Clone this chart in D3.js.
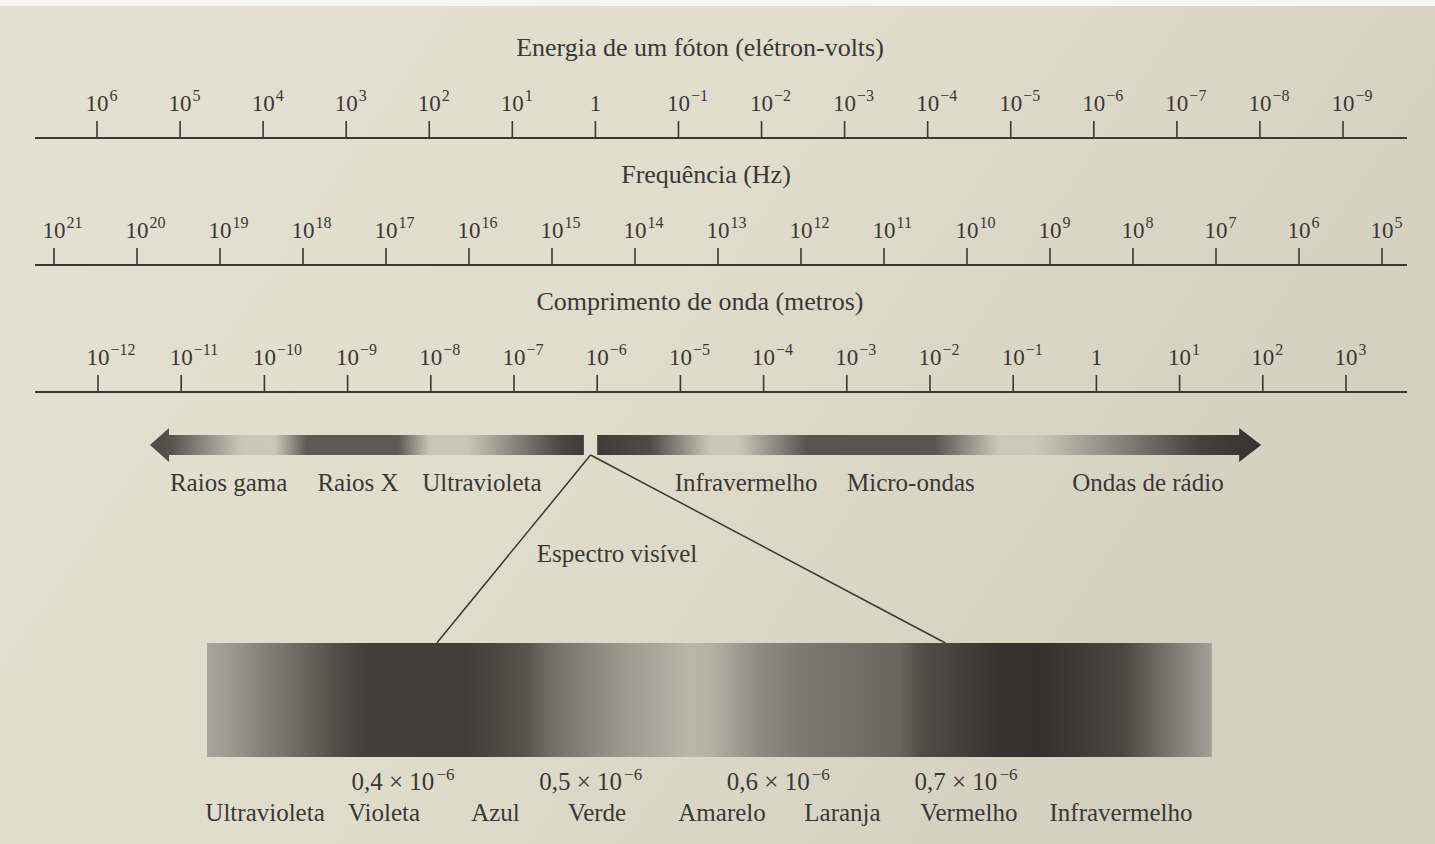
<!DOCTYPE html>
<html>
<head>
<meta charset="utf-8">
<script src="https://cdn.jsdelivr.net/npm/d3@7"></script>
<style>
body { margin: 0; background: #e1decd; }
svg text { font-family: "Liberation Serif", "Times New Roman", serif; fill: #3b3834; }
</style>
</head>
<body>
<script>
//exponents of ten on the three log axes
var energyExp = [6, 5, 4, 3, 2, 1, 0, -1, -2, -3, -4, -5, -6, -7, -8, -9];
var freqExp = [21, 20, 19, 18, 17, 16, 15, 14, 13, 12, 11, 10, 9, 8, 7, 6, 5];
var waveExp = [-12, -11, -10, -9, -8, -7, -6, -5, -4, -3, -2, -1, 0, 1, 2, 3];

//region names under the band, placed at log10(wavelength in m)
var bandNames = ["Raios gama", "Raios X", "Ultravioleta", "Infravermelho", "Micro-ondas", "Ondas de rádio"];
var bandNameExp = [-10.43, -8.875, -7.385, -4.21, -2.23, 0.62];

//grey stops of the band (log10 wavelength), left piece and right piece
var bandLeftExp = [-11.375, -11.13, -10.27, -9.885, -9.49, -8.39, -8.01, -7.56, -6.46, -6.16];
var bandLeftGrey = ["#4d4943", "#57534c", "#cbc7b8", "#cdc9ba", "#5e5a52", "#5e5a52", "#cac6b7", "#cac6b7", "#4c4842", "#3f3c37"];
var bandRightExp = [-6.0, -5.37, -4.63, -4.31, -3.48, -1.94, -1.16, -0.73, 1.25, 1.81, 1.98];
var bandRightGrey = ["#3f3c37", "#4f4b45", "#ccc8b9", "#ccc8b9", "#58544d", "#5a564f", "#cdc9ba", "#cdc9ba", "#45413b", "#393631", "#36332f"];
var visibleApexExp = -6.08;

//visible spectrum, wavelength in micrometres
var visStopUm = [0.2956, 0.3078, 0.3249, 0.3462, 0.3638, 0.3792, 0.4336, 0.4661, 0.4767, 0.5156, 0.5529, 0.5636, 0.5902, 0.6115, 0.6653, 0.6760, 0.7191, 0.7410, 0.7841, 0.7948, 0.8193, 0.8310];
var visStopGrey = ["#a8a499", "#9e9a8e", "#868277", "#6c685f", "#534f48", "#433f39", "#413d37", "#58544c", "#706c62", "#9b978b", "#bab6a8", "#b5b1a3", "#8f8b80", "#7e7a70", "#69655c", "#524e47", "#35322d", "#34312c", "#4c4841", "#615d55", "#8e8a80", "#a39f94"];
var visEdgeUm = [0.418, 0.689];
var visValues = [0.4, 0.5, 0.6, 0.7];
var visNames = ["Ultravioleta", "Violeta", "Azul", "Verde", "Amarelo", "Laranja", "Vermelho", "Infravermelho"];
var visNameUm = [0.3265, 0.3899, 0.4493, 0.5034, 0.570, 0.6342, 0.7015, 0.7826];

var width = 1435,
    height = 844,
    ink = "#3b3834";

var svg = d3.select("body")
    .append("svg")
    .attr("width", width)
    .attr("height", height);

var defs = svg.append("defs");

//page tone of the photo
var page = defs.append("linearGradient")
    .attr("id", "page")
    .attr("x1", 0).attr("y1", 0)
    .attr("x2", 1).attr("y2", 0.4);
page.append("stop").attr("offset", 0).attr("stop-color", "#e3e1d2");
page.append("stop").attr("offset", 0.5).attr("stop-color", "#e0ddcc");
page.append("stop").attr("offset", 1).attr("stop-color", "#d4d0bf");
svg.append("rect").attr("width", width).attr("height", height).attr("fill", "url(#page)");
svg.append("rect").attr("width", width).attr("height", 6).attr("fill", "#f6f6f3");

//scales
var energyX = d3.scaleLog().domain([1e6, 1e-9]).range([97, 1343]);
var freqX = d3.scaleLog().domain([1e21, 1e5]).range([54, 1382]);
var waveX = d3.scaleLog().domain([1e-12, 1e3]).range([98, 1346]);
var visX = d3.scaleLinear().domain([0.4, 0.7]).range([403, 966]);

function pow10(e) { return Math.pow(10, e); }

//one log axis: title, base line, ticks and 10^n labels
function drawAxis(scale, exps, lineY, title, titleX) {
    var g = svg.append("g");

    g.append("text")
        .attr("x", titleX)
        .attr("y", lineY - 82)
        .attr("text-anchor", "middle")
        .attr("font-size", 26)
        .text(title);

    g.append("line")
        .attr("x1", 35).attr("x2", 1407)
        .attr("y1", lineY).attr("y2", lineY)
        .attr("stroke", ink)
        .attr("stroke-width", 2.2);

    var tick = g.selectAll(".tick")
        .data(exps)
        .enter()
        .append("g")
        .attr("class", "tick")
        .attr("transform", function(d) { return "translate(" + scale(pow10(d)) + "," + lineY + ")"; });

    tick.append("line")
        .attr("y1", -17).attr("y2", 0)
        .attr("stroke", ink)
        .attr("stroke-width", 1.6);

    tick.append("text")
        .attr("y", -27)
        .attr("text-anchor", "middle")
        .attr("font-size", 23)
        .text(function(d) { return d === 0 ? "1" : "10"; });

    tick.filter(function(d) { return d !== 0; })
        .append("text")
        .attr("x", 12.5)
        .attr("y", -37)
        .attr("font-size", 16)
        .text(function(d) { return d < 0 ? "\u2212" + (-d) : d; });
}

drawAxis(energyX, energyExp, 138, "Energia de um fóton (elétron-volts)", 700);
drawAxis(freqX, freqExp, 265, "Frequência (Hz)", 706);
drawAxis(waveX, waveExp, 392, "Comprimento de onda (metros)", 700);

//gradient helper, stops placed through a scale
function makeGradient(id, xs, greys) {
    var x0 = xs[0], x1 = xs[xs.length - 1];
    var grad = defs.append("linearGradient")
        .attr("id", id)
        .attr("gradientUnits", "userSpaceOnUse")
        .attr("x1", x0).attr("x2", x1)
        .attr("y1", 0).attr("y2", 0);
    grad.selectAll("stop")
        .data(xs)
        .enter()
        .append("stop")
        .attr("offset", function(d) { return (d - x0) / (x1 - x0); })
        .attr("stop-color", function(d, i) { return greys[i]; });
}

//electromagnetic band
var bandTop = 435, bandBot = 455, headTop = 428, headBot = 462, bandMid = (bandTop + bandBot) / 2;

var leftXs = bandLeftExp.map(function(e) { return waveX(pow10(e)); });
makeGradient("bandLeft", leftXs, bandLeftGrey);
var lTip = leftXs[0], lHead = lTip + 19, lEnd = leftXs[leftXs.length - 1];
svg.append("path")
    .attr("d", "M" + lTip + "," + bandMid + "L" + lHead + "," + headTop + "L" + lHead + "," + bandTop +
        "L" + lEnd + "," + bandTop + "L" + lEnd + "," + bandBot + "L" + lHead + "," + bandBot +
        "L" + lHead + "," + headBot + "Z")
    .attr("fill", "url(#bandLeft)");

var rightXs = bandRightExp.map(function(e) { return waveX(pow10(e)); });
makeGradient("bandRight", rightXs, bandRightGrey);
var rStart = rightXs[0], rTip = rightXs[rightXs.length - 1], rHead = rTip - 22;
svg.append("path")
    .attr("d", "M" + rStart + "," + bandTop + "L" + rHead + "," + bandTop + "L" + rHead + "," + headTop +
        "L" + rTip + "," + bandMid + "L" + rHead + "," + headBot + "L" + rHead + "," + bandBot +
        "L" + rStart + "," + bandBot + "Z")
    .attr("fill", "url(#bandRight)");

svg.selectAll(".bandName")
    .data(bandNames)
    .enter()
    .append("text")
    .attr("class", "bandName")
    .attr("x", function(d, i) { return waveX(pow10(bandNameExp[i])); })
    .attr("y", 491)
    .attr("text-anchor", "middle")
    .attr("font-size", 25)
    .text(function(d) { return d; });

//visible spectrum zoom
var visTop = 643, visBot = 757;
var apexX = waveX(pow10(visibleApexExp));

svg.selectAll(".zoomLine")
    .data(visEdgeUm)
    .enter()
    .append("line")
    .attr("class", "zoomLine")
    .attr("x1", apexX).attr("y1", bandBot)
    .attr("x2", function(d) { return visX(d); }).attr("y2", visTop)
    .attr("stroke", ink)
    .attr("stroke-width", 1.5);

svg.append("text")
    .attr("x", 617)
    .attr("y", 562)
    .attr("text-anchor", "middle")
    .attr("font-size", 25)
    .text("Espectro visível");

var visXs = visStopUm.map(function(d) { return visX(d); });
makeGradient("visible", visXs, visStopGrey);
svg.append("rect")
    .attr("x", visXs[0])
    .attr("y", visTop)
    .attr("width", visXs[visXs.length - 1] - visXs[0])
    .attr("height", visBot - visTop)
    .attr("fill", "url(#visible)");

var valueText = svg.selectAll(".visValue")
    .data(visValues)
    .enter()
    .append("text")
    .attr("class", "visValue")
    .attr("x", function(d) { return visX(d); })
    .attr("y", 790)
    .attr("text-anchor", "middle")
    .attr("font-size", 25);
valueText.append("tspan").text(function(d) { return String(d).replace(".", ",") + " \u00d7 10"; });
valueText.append("tspan").attr("dy", -10).attr("dx", 2).attr("font-size", 17).text("\u22126");

svg.selectAll(".visName")
    .data(visNames)
    .enter()
    .append("text")
    .attr("class", "visName")
    .attr("x", function(d, i) { return visX(visNameUm[i]); })
    .attr("y", 821)
    .attr("text-anchor", "middle")
    .attr("font-size", 25)
    .text(function(d) { return d; });
</script>
</body>
</html>
